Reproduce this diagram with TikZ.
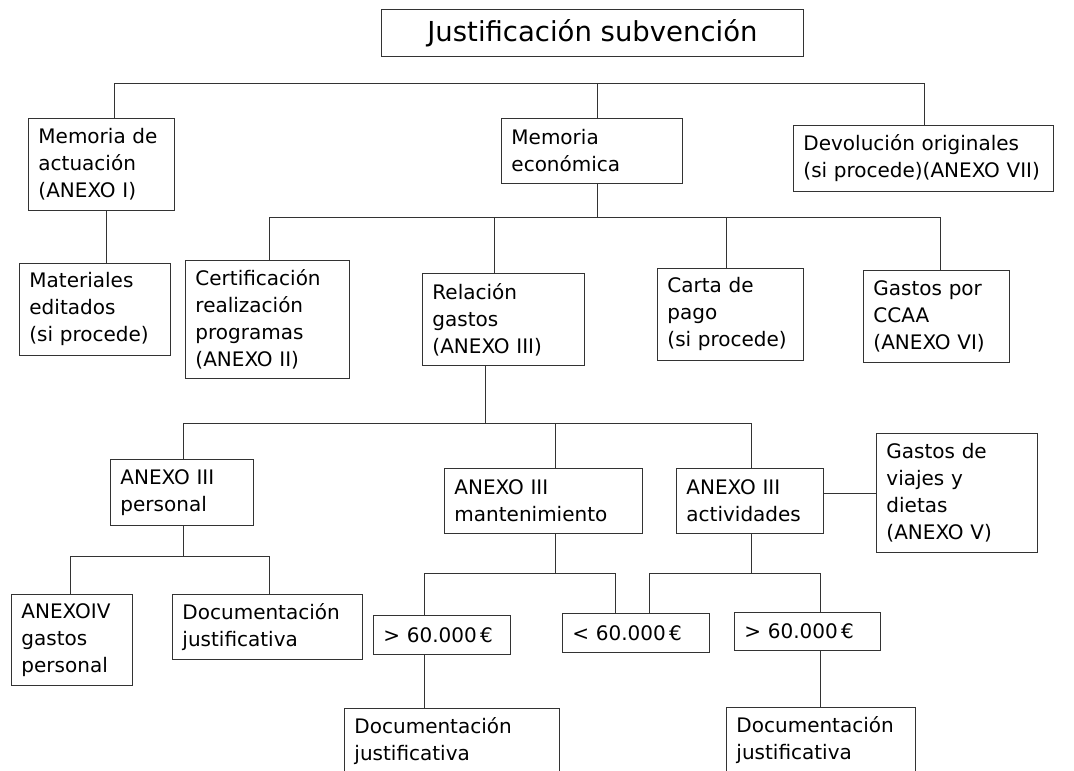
\documentclass[tikz,border=0pt]{standalone}
\usepackage{fontspec}
\usepackage{tikz}
\newfontfamily\diagfont{DejaVu Sans}
\tikzstyle{box}=[rectangle,
draw=black!80,
line width=0.9pt,
anchor=north west,
align=left,
inner xsep=10pt,
inner ysep=0pt,
font=\diagfont\fontsize{20}{27}\selectfont]
\tikzstyle{titlebox}=[rectangle,
draw=black!80,
line width=0.9pt,
anchor=north west,
inner sep=0pt,
font=\diagfont\fontsize{27.5}{32}\selectfont]
\tikzstyle{link}=[draw=black!80,
line width=0.9pt]

\begin{document}
\begin{tikzpicture}[x=1pt,y=-1pt]
		% picture size (1074 x 771)
		\useasboundingbox (0,0) rectangle (1074,771);
		
		% Title
		\node (titulo) [titlebox,minimum width=422pt,minimum height=47pt] at (381,9) {Justificación subvención};
		
		% First level
		\node (actuacion)  [box,text width=126pt,minimum height=92pt] at (28,118) {Memoria de\\actuación\\(ANEXO~I)};
		\node (economica)  [box,text width=161pt,minimum height=65pt] at (501,118) {Memoria\\económica};
		\node (devolucion) [box,text width=240pt,minimum height=66pt] at (793,125) {Devolución~originales\\(si~procede)(ANEXO~VII)};
		
		% Second level
		\node (materiales)    [box,text width=131pt,minimum height=92pt] at (19,263) {Materiales\\editados\\(si~procede)};
		\node (certificacion) [box,text width=144pt,minimum height=118pt] at (185,260) {Certificación\\realización\\programas\\(ANEXO~II)};
		\node (relacion)      [box,text width=142pt,minimum height=92pt] at (422,273) {Relación\\gastos\\(ANEXO~III)};
		\node (carta)         [box,text width=126pt,minimum height=92pt] at (657,268) {Carta de\\pago\\(si~procede)};
		\node (ccaa)          [box,text width=126pt,minimum height=92pt] at (863,270) {Gastos~por\\CCAA\\(ANEXO~VI)};
		
		% Third level: annex III
		\node (personal)      [box,text width=123pt,minimum height=66pt] at (110,459) {ANEXO~III\\personal};
		\node (mantenimiento) [box,text width=178pt,minimum height=65pt] at (444,468) {ANEXO~III\\mantenimiento};
		\node (actividades)   [box,text width=127pt,minimum height=65pt] at (676,468) {ANEXO~III\\actividades};
		\node (viajes)        [box,text width=141pt,minimum height=119pt] at (876,433) {Gastos~de\\viajes~y\\dietas\\(ANEXO~V)};
		
		% Fourth level
		\node (anexoiv)     [box,text width=101pt,minimum height=91pt] at (11,594) {ANEXOIV\\gastos\\personal};
		\node (docpersonal) [box,text width=170pt,minimum height=65pt] at (172,594) {Documentación\\justificativa};
		\node (mayormant)   [box,text width=117pt,minimum height=39pt] at (373,615) {>~60.000\,€};
		\node (menor)       [box,text width=127pt,minimum height=39pt] at (562,613) {<~60.000\,€};
		\node (mayoract)    [box,text width=126pt,minimum height=38pt] at (734,612) {>~60.000\,€};
		
		% Last level (cut by the bottom edge)
		\node (docmant) [box,text width=195pt,minimum height=66pt] at (344,708) {Documentación\\justificativa};
		\node (docact)  [box,text width=169pt,minimum height=66pt] at (726,707) {Documentación\\justificativa};
		
		% heights of the horizontal bars
		\coordinate (bus1) at (0,83);
		\coordinate (bus2) at (0,217);
		\coordinate (bus3) at (0,423);
		\coordinate (bus4) at (0,556);
		\coordinate (bus5) at (0,573);
		
		% The connectors
		\draw[link] ([xshift=13pt]actuacion.north) |- ([xshift=1pt]devolucion.north |- bus1) -- ([xshift=1pt]devolucion.north);
		\draw[link] ([xshift=5.5pt]economica.north) -- ([xshift=5.5pt]economica.north |- bus1);
		\draw[link] ([xshift=5pt]actuacion.south) -- ([xshift=5pt]actuacion.south |- materiales.north);
		
		\draw[link] ([xshift=5.5pt]economica.south) -- ([xshift=5.5pt]economica.south |- bus2);
		\draw[link] ([xshift=2pt]certificacion.north) |- ([xshift=4pt]ccaa.north |- bus2) -- ([xshift=4pt]ccaa.north);
		\draw[link] ([xshift=-9pt]relacion.north) -- ([xshift=-9pt]relacion.north |- bus2);
		\draw[link] ([xshift=-4pt]carta.north) -- ([xshift=-4pt]carta.north |- bus2);
		
		\draw[link] ([xshift=-18pt]relacion.south) -- ([xshift=-18pt]relacion.south |- bus3);
		\draw[link] ([xshift=1.5pt]personal.north) |- ([xshift=1.5pt]actividades.north |- bus3) -- ([xshift=1.5pt]actividades.north);
		\draw[link] ([xshift=12pt]mantenimiento.north) -- ([xshift=12pt]mantenimiento.north |- bus3);
		\draw[link] ([yshift=7.5pt]actividades.east) -- ([yshift=7.5pt]actividades.east -| viajes.west);
		
		\draw[link] ([xshift=1.5pt]personal.south) -- ([xshift=1.5pt]personal.south |- bus4);
		\draw[link] ([xshift=-1.5pt]anexoiv.north) |- ([xshift=2pt]docpersonal.north |- bus4) -- ([xshift=2pt]docpersonal.north);
		
		\draw[link] ([xshift=12pt]mantenimiento.south) -- ([xshift=12pt]mantenimiento.south |- bus5);
		\draw[link] ([xshift=-17.5pt]mayormant.north) |- ([xshift=-20.5pt]menor.north |- bus5) -- ([xshift=-20.5pt]menor.north);
		\draw[link] ([xshift=1.5pt]actividades.south) -- ([xshift=1.5pt]actividades.south |- bus5);
		\draw[link] ([xshift=13.5pt]menor.north) |- ([xshift=13pt]mayoract.north |- bus5) -- ([xshift=13pt]mayoract.north);
		
		\draw[link] ([xshift=-17.5pt]mayormant.south) -- ([xshift=-17.5pt]mayormant.south |- docmant.north);
		\draw[link] ([xshift=13pt]mayoract.south) -- ([xshift=13pt]mayoract.south |- docact.north);
\end{tikzpicture}
\end{document}
